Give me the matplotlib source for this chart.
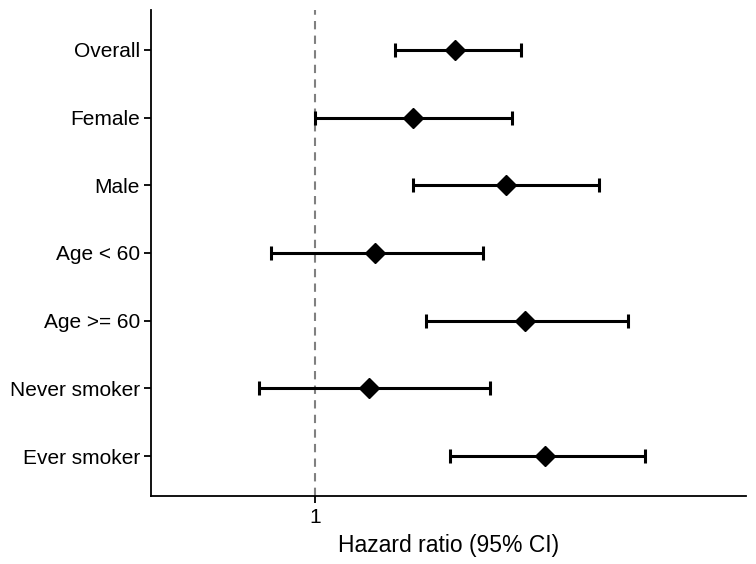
import numpy as np
import matplotlib
matplotlib.use("Agg")
import matplotlib.pyplot as plt

plt.rcParams['font.family'] = ['Liberation Sans', 'DejaVu Sans']

# subgroups, top to bottom
groups = ["Overall", "Female", "Male", "Age < 60", "Age >= 60",
          "Never smoker", "Ever smoker"]
hr = [1.50, 1.33, 1.74, 1.19, 1.84, 1.17, 1.95]
lower = [1.26, 1.00, 1.33, 0.88, 1.38, 0.85, 1.48]
upper = [1.82, 1.77, 2.28, 1.63, 2.48, 1.66, 2.61]

hr = np.array(hr)
lower = np.array(lower)
upper = np.array(upper)
ypos = np.arange(1, len(groups) + 1)

fig = plt.figure(figsize=(7.56, 5.64), dpi=100)
ax = fig.add_axes([0.1997, 0.1206, 0.787, 0.8617])

ax.axvline(1, color="#808080", linestyle=(0, (4, 3)), linewidth=1.5, zorder=1)
ax.errorbar(hr, ypos, xerr=[hr - lower, upper - hr], fmt="D", color="black",
            markersize=10, elinewidth=2.2, capsize=5, capthick=2.2, zorder=3)

ax.set_xscale("log")
ax.set_xlim(0.62, 3.5)
ax.set_xticks([1])
ax.set_xticklabels(["1"])
ax.xaxis.set_minor_locator(matplotlib.ticker.NullLocator())
ax.set_ylim(len(groups) + 0.59, 0.41)
ax.set_yticks(ypos)
ax.set_yticklabels(groups)

for side in ["top", "right"]:
    ax.spines[side].set_visible(False)
for side in ["left", "bottom"]:
    ax.spines[side].set_linewidth(1.3)
ax.tick_params(axis="both", length=5, width=1.3, labelsize=15, colors="black")
ax.tick_params(axis="y", pad=3)
ax.tick_params(axis="x", pad=4)
ax.set_xlabel("Hazard ratio (95% CI)", fontsize=16.5, labelpad=5)

fig.savefig("out.png", dpi=100)
